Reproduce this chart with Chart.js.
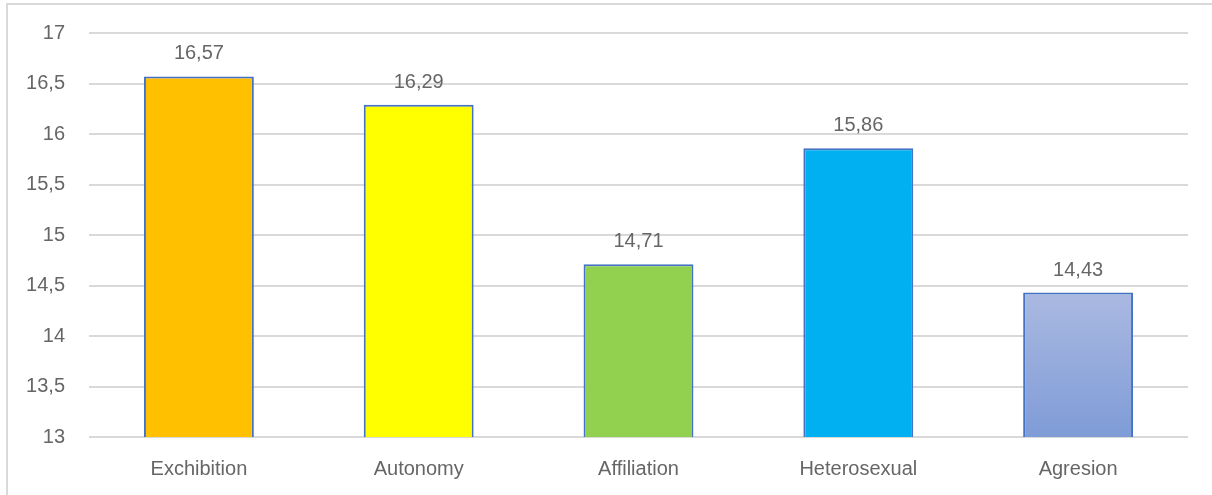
<!DOCTYPE html>
<html>
<head>
<meta charset="utf-8">
<script src="https://cdn.jsdelivr.net/npm/chart.js@4.4.0/dist/chart.umd.min.js"></script>
<style>
  html, body { margin: 0; padding: 0; background: #fff; }
  #wrap { position: relative; width: 1212px; height: 495px; }
  #frame { position: absolute; left: 6px; top: 3px; right: 0; bottom: 0;
           border-left: 2px solid #d9d9d9; border-top: 2px solid #d9d9d9; }
  canvas { position: absolute; left: 0; top: 0; }
</style>
</head>
<body>
<div id="wrap">
  <div id="frame"></div>
  <canvas id="chart" width="1212" height="495"></canvas>
</div>
<script>
const categories = ['Exchibition', 'Autonomy', 'Affiliation', 'Heterosexual', 'Agresion'];
const values = [16.57, 16.29, 14.71, 15.86, 14.43];
const barColors = ['#FFC000', '#FFFF00', '#92D050', '#00B0F0', null];
const yTicks = [13, 13.5, 14, 14.5, 15, 15.5, 16, 16.5, 17];

const FONT = "'Liberation Sans', Arial, sans-serif";
const TEXT = '#666666';

const fmt = v => String(v).replace('.', ',');

// value labels above each bar
const valueLabels = {
  id: 'valueLabels',
  afterDatasetsDraw(chart) {
    const ctx = chart.ctx;
    const meta = chart.getDatasetMeta(0);
    ctx.save();
    ctx.font = '20px ' + FONT;
    ctx.fillStyle = TEXT;
    ctx.textAlign = 'center';
    ctx.textBaseline = 'alphabetic';
    meta.data.forEach((bar, i) => {
      ctx.fillText(fmt(values[i]), bar.x, bar.y - 17);
    });
    ctx.restore();
  }
};

function fillFor(context) {
  const c = barColors[context.dataIndex];
  if (c) return c;
  const chart = context.chart;
  const area = chart.chartArea;
  const ys = chart.scales.y;
  if (!area || !ys) return '#95A9DC';
  const top = ys.getPixelForValue(values[context.dataIndex]);
  const g = chart.ctx.createLinearGradient(0, top, 0, area.bottom);
  g.addColorStop(0, '#AAB9E1');
  g.addColorStop(1, '#7F9CD7');
  return g;
}

new Chart(document.getElementById('chart'), {
  type: 'bar',
  data: {
    labels: categories,
    datasets: [{
      data: values,
      backgroundColor: fillFor,
      borderColor: '#4472C4',
      borderWidth: 2,
      borderSkipped: 'start',
      categoryPercentage: 0.5,
      barPercentage: 1
    }]
  },
  options: {
    responsive: false,
    animation: false,
    layout: { padding: { top: 33, right: 24, bottom: 0, left: 0 } },
    plugins: { legend: { display: false }, tooltip: { enabled: false } },
    scales: {
      x: {
        grid: { display: false, drawTicks: false },
        border: { display: false },
        ticks: { color: TEXT, font: { family: FONT, size: 20 }, padding: 20 },
        afterFit(scale) { scale.height = 58; }
      },
      y: {
        min: 13,
        max: 17,
        afterBuildTicks(scale) { scale.ticks = yTicks.map(v => ({ value: v })); },
        grid: { color: '#d9d9d9', lineWidth: 2, drawTicks: false },
        border: { display: false },
        ticks: { color: TEXT, font: { family: FONT, size: 20 }, padding: 24, callback: v => fmt(v) },
        afterFit(scale) {
          scale.width = 89;
          scale.paddingTop = 0;
          scale.paddingBottom = 0;
        }
      }
    }
  },
  plugins: [valueLabels]
});
</script>
</body>
</html>
